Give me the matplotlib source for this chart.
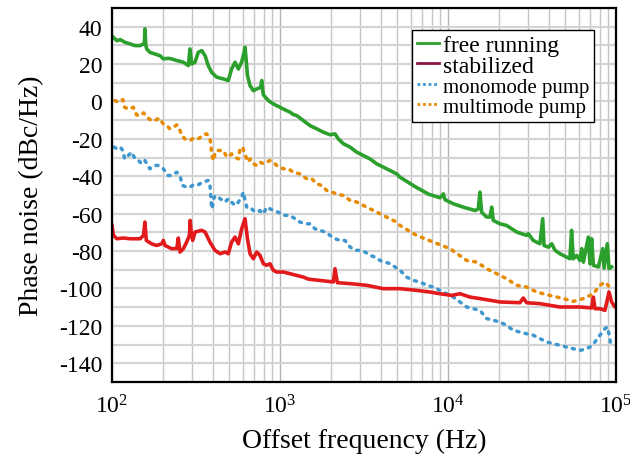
import matplotlib
matplotlib.use("Agg")
import matplotlib.pyplot as plt
from matplotlib.lines import Line2D
from matplotlib.ticker import FixedLocator, LogLocator, NullFormatter

plt.rcParams['font.family'] = ['Liberation Serif', 'DejaVu Serif']
plt.rcParams['mathtext.fontset'] = 'custom'
plt.rcParams['mathtext.rm'] = 'Liberation Serif'
plt.rcParams['mathtext.it'] = 'Liberation Serif:italic'
plt.rcParams['axes.unicode_minus'] = False

# ---------------- data (Hz, dBc/Hz) ----------------
f_free = [100, 102, 107, 112, 119, 128, 137, 147, 154, 156, 157, 159, 161, 168, 180, 193,
          202, 216, 226, 243, 266, 285, 291, 298, 312, 326, 342, 358, 374, 392, 420, 460,
          492, 515, 540, 565, 591, 611, 619, 628, 640, 663, 694, 726, 767, 778, 789, 796,
          852, 913, 955, 1000, 1096, 1147, 1200, 1256, 1377, 1509, 1653, 1811, 1985, 2125,
          2225, 2384, 2611, 2863, 3135, 3434, 3760, 4120, 4516, 4950, 5180, 6362, 7640,
          8960, 9380, 9595, 10755, 12330, 14490, 15140, 15496, 15850, 16977, 17780, 18190,
          18600, 20378, 22326, 25620, 29360, 30060, 32166, 35241, 36620, 37270, 39550,
          41430, 43350, 46343, 50773, 53150, 54400, 55626, 58320, 60943, 62500, 63950,
          68400, 69950, 71610, 73320, 78480, 83370, 84950, 88800, 90830, 94140]
pn_free = [35.0, 34.3, 32.5, 33.1, 31.7, 30.8, 29.9, 29.9, 30.8, 31.7, 38.8, 29.9, 28.1, 26.3,
           25.4, 24.5, 22.8, 23.1, 22.8, 21.9, 21.0, 19.2, 28.1, 20.1, 21.0, 26.3, 27.2, 24.5,
           19.2, 15.6, 13.0, 12.1, 11.2, 17.4, 21.0, 17.4, 21.0, 26.3, 29.0, 22.8, 13.9, 8.5,
           5.8, 6.7, 7.6, 11.2, 5.8, 3.6, 0.5, -1.3, -2.2, -3.1, -4.9, -5.7, -7.0, -7.5,
           -10.2, -12.9, -14.6, -16.4, -17.8, -17.3, -20.0, -22.6, -24.4, -27.1, -28.9,
           -30.7, -33.3, -35.1, -36.9, -38.7, -40.5, -45.5, -49.5, -51.5, -49.4, -52.5,
           -54.7, -56.5, -58.3, -57.4, -48.5, -59.2, -61.8, -61.8, -56.5, -63.6, -65.4,
           -66.3, -69.8, -71.6, -70.7, -74.3, -76.1, -62.7, -77.0, -77.9, -76.1, -79.6,
           -81.4, -83.2, -84.1, -68.9, -84.1, -82.3, -85.0, -78.7, -85.9, -72.5, -86.8,
           -73.4, -87.6, -88.5, -78.7, -89.1, -76.1, -89.4, -88.5]

f_stab = [100, 102, 107, 117, 128, 147, 154, 157, 160, 172, 184, 198, 202, 207, 226, 243,
          248, 254, 266, 278, 289, 292, 296, 302, 312, 342, 358, 383, 410, 440, 471, 492,
          515, 540, 565, 591, 619, 640, 663, 694, 726, 760, 796, 833, 872, 913, 955, 1047,
          1147, 1256, 1377, 1475, 1730, 2076, 2125, 2195, 2611, 3280, 4120, 5180, 6510,
          7813, 8960, 10520, 11783, 13520, 15496, 20378, 26798, 28060, 29360, 35241,
          46343, 60943, 71610, 73320, 74920, 80240, 85940, 90830, 94140, 98600, 100000]
pn_stab = [-66.3, -71.6, -73.4, -73.0, -73.4, -73.4, -71.6, -64.5, -74.3, -76.1, -77.0,
           -76.1, -74.3, -77.0, -78.7, -78.7, -73.0, -80.5, -78.7, -75.2, -71.6, -63.6,
           -69.8, -74.3, -69.8, -68.9, -69.8, -75.2, -79.6, -81.4, -80.5, -81.4, -75.2,
           -72.5, -76.1, -68.1, -62.7, -73.4, -81.4, -84.1, -80.5, -82.3, -86.8, -87.6,
           -86.8, -90.3, -91.2, -91.2, -92.1, -93.0, -93.9, -95.0, -95.7, -96.5, -89.4,
           -96.9, -97.4, -98.3, -100.1, -100.1, -101.0, -101.9, -102.8, -103.7, -102.8,
           -104.6, -105.4, -107.2, -107.6, -105.1, -107.6, -108.1, -109.9, -109.9, -110.4,
           -104.6, -110.8, -110.8, -111.7, -101.9, -107.2, -109.9, -110.0]

f_mono = [103, 107, 112, 116, 119, 125, 131, 137, 144, 150, 157, 168, 180, 189, 202, 216,
          226, 243, 254, 263, 278, 291, 305, 319, 334, 349, 374, 383, 388, 390, 394, 405,
          420, 440, 471, 492, 515, 540, 565, 591, 605, 619, 634, 663, 694, 726, 760, 796,
          833, 872, 913, 977, 1047, 1147, 1228, 1315, 1409, 1509, 1616, 1730, 1853, 1985,
          2125, 2276, 2438, 2611, 2796, 2994, 3207, 3434, 3678, 3938, 4217, 4516, 4837,
          5180, 5675, 6218, 6813, 7464, 8177, 8960, 9817, 10755, 11783, 12910, 14144,
          15496, 16977, 18600, 20378, 22326, 24460, 26798, 29360, 32166, 35241, 38610,
          42300, 46343, 50773, 55626, 60943, 65310, 69950, 74920, 80240, 85940, 88800,
          91200, 92900]
pn_mono = [-24.4, -25.3, -24.4, -26.2, -30.7, -28.9, -27.1, -30.7, -31.6, -33.3, -31.6,
           -36.0, -34.2, -34.2, -36.0, -39.6, -39.6, -37.8, -39.9, -44.9, -45.8, -45.8,
           -44.6, -44.9, -44.0, -43.1, -42.2, -44.9, -52.0, -54.7, -57.4, -51.1, -50.3,
           -52.0, -53.8, -52.0, -53.8, -55.6, -53.8, -51.1, -48.5, -52.9, -56.5, -56.5,
           -58.3, -59.2, -58.3, -60.1, -56.5, -57.4, -58.3, -59.2, -60.9, -60.9, -62.7,
           -64.5, -65.4, -65.4, -68.1, -68.9, -69.8, -71.6, -73.4, -74.3, -74.3, -77.8,
           -79.6, -79.6, -80.5, -82.3, -83.2, -85.0, -85.9, -86.7, -88.5, -90.3, -93.9,
           -95.7, -96.5, -98.3, -99.2, -101.0, -102.8, -104.6, -107.2, -109.9, -110.8,
           -111.7, -116.1, -117.0, -117.9, -119.7, -122.4, -123.3, -124.2, -125.0, -126.8,
           -128.6, -129.5, -130.4, -131.3, -132.2, -133.1, -132.5, -131.3, -128.6, -125.0,
           -121.5, -120.6, -125.0, -129.5]

f_multi = [104, 109, 116, 119, 125, 134, 140, 147, 154, 161, 172, 180, 191, 202, 212, 221,
           232, 243, 254, 260, 272, 291, 305, 319, 331, 349, 366, 383, 388, 390, 394, 401,
           410, 420, 440, 460, 477, 492, 515, 540, 565, 578, 600, 611, 634, 648, 663, 694,
           726, 760, 796, 833, 872, 913, 955, 1000, 1047, 1122, 1200, 1315, 1442, 1545,
           1653, 1771, 1897, 2032, 2176, 2384, 2611, 2863, 3135, 3434, 3760, 4120, 4516,
           4950, 5180, 6510, 8177, 10280, 12910, 14830, 16977, 19490, 22326, 25620, 29360,
           33700, 40470, 48560, 55626, 63950, 73320, 80240, 85940, 89900, 92000]
pn_multi = [0.5, -0.4, 1.0, -3.1, -4.0, -3.1, -7.2, -7.5, -6.1, -8.4, -10.2, -10.2, -8.9,
            -12.0, -12.9, -14.6, -13.8, -12.5, -15.5, -18.2, -20.0, -20.9, -19.6, -20.0,
            -19.6, -17.8, -17.3, -19.6, -23.5, -26.2, -28.9, -31.6, -28.0, -26.2, -26.2,
            -26.2, -28.9, -29.8, -28.0, -29.8, -30.7, -25.3, -24.4, -27.1, -30.7, -32.4,
            -30.7, -33.3, -34.2, -32.4, -33.3, -32.4, -31.6, -32.4, -34.2, -35.1, -36.0,
            -36.0, -37.8, -38.7, -41.3, -41.3, -44.0, -44.9, -47.6, -48.5, -49.4, -50.3,
            -52.9, -53.8, -55.6, -57.4, -59.1, -61.0, -62.7, -64.5, -66.3, -71.6, -75.2,
            -78.7, -85.0, -85.9, -89.4, -92.1, -94.8, -98.3, -99.2, -101.9, -103.7, -105.4,
            -106.9, -105.4, -102.8, -98.3, -96.6, -98.3, -101.0]

labels = ["free running", "stabilized", "monomode pump", "multimode pump"]
line_colors = ["#2ca02c", "#e31a1c", "#3f97d0", "#e68a00"]
legend_colors = ["#2ca02c", "#8c1546", "#3f97d0", "#e68a00"]
y_ticks = [-140, -120, -100, -80, -60, -40, -20, 0, 20, 40]

# ---------------- figure ----------------
fig = plt.figure(figsize=(6.3, 4.64), dpi=100)
ax = fig.add_axes([0.1778, 0.1746, 0.8, 0.806])

dot_style = (0, (0.6, 1.8))
ax.plot(f_free, pn_free, color=line_colors[0], lw=2.6, solid_joinstyle='round', zorder=4)
ax.plot(f_stab, pn_stab, color=line_colors[1], lw=2.6, solid_joinstyle='round', zorder=4)
ax.plot(f_mono, pn_mono, color=line_colors[2], lw=2.5, linestyle=dot_style,
        dash_capstyle='round', zorder=3)
ax.plot(f_multi, pn_multi, color=line_colors[3], lw=2.5, linestyle=dot_style,
        dash_capstyle='round', zorder=3)

ax.set_xscale('log')
ax.set_xlim(1e2, 1e5)
ax.set_ylim(-150, 50)
ax.set_yticks(y_ticks)
ax.yaxis.set_minor_locator(FixedLocator(list(range(-150, 51, 10))))
ax.xaxis.set_minor_locator(LogLocator(base=10, subs=range(2, 10)))
ax.xaxis.set_minor_formatter(NullFormatter())

ax.grid(True, which='major', axis='x', color='#b4b4b4', lw=1.0)
ax.grid(True, which='minor', axis='x', color='#c4c4c4', lw=1.0)
ax.grid(True, which='both', axis='y', color='#d4d4d4', lw=1.6)
ax.set_axisbelow(True)

ax.tick_params(which='both', length=0)
ax.tick_params(axis='y', labelsize=17, pad=7)
ax.tick_params(axis='x', labelsize=17, pad=9)

for s in ax.spines.values():
    s.set_linewidth(1.6)
    s.set_color('black')
    s.set_zorder(6)

ax.set_xlabel("Offset frequency (Hz)", fontsize=20, labelpad=7)
ax.set_ylabel("Phase noise (dBc/Hz)", fontsize=20, labelpad=11)

handles = [
    Line2D([], [], color=legend_colors[0], lw=2.0),
    Line2D([], [], color=legend_colors[1], lw=2.0),
    Line2D([], [], color=legend_colors[2], lw=2.0, linestyle=(0, (1, 1))),
    Line2D([], [], color=legend_colors[3], lw=2.0, linestyle=(0, (1, 1))),
]
leg = ax.legend(handles, labels, loc='upper right', bbox_to_anchor=(0.956, 0.941),
                borderaxespad=0, fancybox=False, framealpha=1, edgecolor='black',
                fontsize=17, handlelength=0.95, handletextpad=0.15, labelspacing=-0.05,
                borderpad=0.2)
leg.get_frame().set_linewidth(1.0)
leg.set_zorder(7)
for t in leg.get_texts()[2:]:
    t.set_fontsize(15)

fig.savefig("out.png", dpi=100)
